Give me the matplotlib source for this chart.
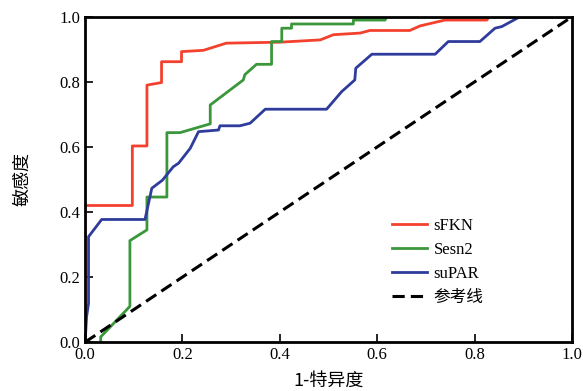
import matplotlib
matplotlib.use("Agg")
import matplotlib.pyplot as plt

# ROC curves
fkn_x = [0.0, 0.0, 0.097, 0.097, 0.127, 0.127, 0.157, 0.157, 0.198, 0.198, 0.243, 0.29,
         0.40, 0.483, 0.51, 0.565, 0.585, 0.667, 0.688, 0.739, 0.825, 0.83, 1.0]
fkn_y = [0.0, 0.42, 0.42, 0.603, 0.603, 0.79, 0.798, 0.862, 0.862, 0.893, 0.897, 0.919,
         0.922, 0.929, 0.945, 0.95, 0.958, 0.958, 0.972, 0.99, 0.99, 1.0, 1.0]

sesn_x = [0.032, 0.032, 0.092, 0.092, 0.127, 0.127, 0.168, 0.168, 0.195, 0.257, 0.257,
          0.325, 0.328, 0.352, 0.383, 0.383, 0.404, 0.404, 0.424, 0.424, 0.551, 0.551,
          0.616, 0.62, 1.0]
sesn_y = [0.0, 0.016, 0.11, 0.312, 0.345, 0.446, 0.446, 0.644, 0.644, 0.671, 0.729,
          0.806, 0.822, 0.854, 0.854, 0.924, 0.924, 0.965, 0.965, 0.978, 0.978, 0.99,
          0.99, 1.0, 1.0]

supar_x = [0.0, 0.003, 0.007, 0.007, 0.034, 0.123, 0.137, 0.159, 0.181, 0.192, 0.216,
           0.233, 0.274, 0.277, 0.318, 0.339, 0.37, 0.496, 0.527, 0.554, 0.556, 0.589,
           0.719, 0.746, 0.811, 0.842, 0.856, 0.893, 1.0]
supar_y = [0.0, 0.078, 0.119, 0.324, 0.377, 0.377, 0.473, 0.498, 0.539, 0.55, 0.596,
           0.647, 0.652, 0.665, 0.665, 0.673, 0.716, 0.716, 0.77, 0.806, 0.842, 0.885,
           0.885, 0.924, 0.924, 0.965, 0.97, 1.0, 1.0]

ref = [0.0, 1.0]

series = [
    ("sFKN", fkn_x, fkn_y, "#f4412e"),
    ("Sesn2", sesn_x, sesn_y, "#3b973b"),
    ("suPAR", supar_x, supar_y, "#2f3c9c"),
]

plt.rcParams["font.family"] = ["Liberation Serif", "Noto Sans CJK SC"]

fig = plt.figure(figsize=(5.83, 3.91), dpi=100)
ax = fig.add_axes([0.146, 0.125, 0.835, 0.832])

for name, xs, ys, col in series:
    ax.plot(xs, ys, color=col, linewidth=2.0, label=name)
ax.plot(ref, ref, color="black", linewidth=2.2, linestyle=(0, (4, 2)), label="参考线")

ax.set_xlim(0, 1)
ax.set_ylim(0, 1)
ax.set_xticks([0, 0.2, 0.4, 0.6, 0.8, 1.0])
ax.set_yticks([0, 0.2, 0.4, 0.6, 0.8, 1.0])
ax.xaxis.set_major_formatter(matplotlib.ticker.FormatStrFormatter("%.1f"))
ax.yaxis.set_major_formatter(matplotlib.ticker.FormatStrFormatter("%.1f"))
ax.tick_params(direction="in", length=6, width=1.2, labelsize=12)
for s in ax.spines.values():
    s.set_linewidth(2.0)

ax.set_xlabel("1-特异度", fontsize=13, family=["Noto Sans CJK SC"], labelpad=6)
ax.set_ylabel("敏感度", fontsize=13, family=["Noto Sans CJK SC"], labelpad=20)

leg = ax.legend(loc="upper left", bbox_to_anchor=(0.63, 0.383), frameon=False,
                borderpad=0, borderaxespad=0, handlelength=2.1, handletextpad=0.4,
                labelspacing=0.48,
                prop={"family": ["Liberation Serif", "Noto Sans CJK SC"], "size": 12})

fig.savefig("out.png", dpi=100)
